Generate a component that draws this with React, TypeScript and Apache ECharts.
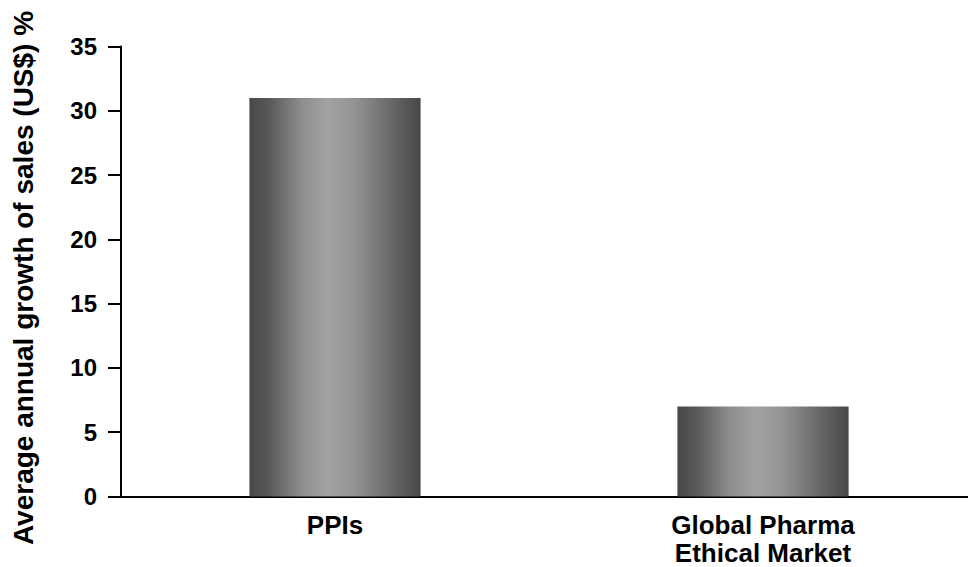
import React, { useEffect, useRef } from "react";
import * as echarts from "echarts";

const categories = ["PPIs", "Global Pharma\nEthical Market"];
const growthValues = [31, 7];
const yTicks = { min: 0, max: 35, interval: 5 };
const yTitle = "Average annual growth of sales (US$) %";

const FONT = "'Liberation Sans', Arial, Helvetica, sans-serif";

export default function App() {
  const ref = useRef<HTMLDivElement>(null);
  useEffect(() => {
    if (!ref.current) return;
    const chart = echarts.init(ref.current, undefined, { renderer: "svg" });
    const grad = new echarts.graphic.LinearGradient(0, 0, 1, 0, [
      { offset: 0, color: "#474747" },
      { offset: 0.12, color: "#5a5a5a" },
      { offset: 0.3, color: "#8c8c8c" },
      { offset: 0.45, color: "#a2a2a2" },
      { offset: 0.6, color: "#969696" },
      { offset: 0.82, color: "#6a6a6a" },
      { offset: 1, color: "#474747" },
    ]);
    chart.setOption({
      animation: false,
      backgroundColor: "#ffffff",
      grid: {
        left: 121,
        top: 46.5,
        width: 856,
        height: 450,
        containLabel: false,
        outerBoundsMode: "none",
      },
      graphic: [
        {
          type: "text",
          x: 23,
          y: 278,
          rotation: Math.PI / 2,
          style: {
            text: yTitle,
            fill: "#000",
            font: `bold 28px ${FONT}`,
            align: "center",
            verticalAlign: "middle",
          },
        },
      ],
      xAxis: {
        type: "category",
        data: categories,
        axisLine: { lineStyle: { color: "#000", width: 2 } },
        axisTick: { show: false },
        axisLabel: {
          color: "#000",
          fontFamily: FONT,
          fontWeight: "bold",
          fontSize: 26,
          lineHeight: 28,
          margin: 14,
        },
      },
      yAxis: {
        type: "value",
        min: yTicks.min,
        max: yTicks.max,
        interval: yTicks.interval,
        axisLine: { show: true, lineStyle: { color: "#000", width: 2 } },
        axisTick: { show: true, length: 13, lineStyle: { color: "#000", width: 2 } },
        splitLine: { show: false },
        axisLabel: {
          color: "#000",
          fontFamily: FONT,
          fontWeight: "bold",
          fontSize: 24,
          margin: 24,
        },
      },
      series: [
        {
          type: "bar",
          data: growthValues,
          barWidth: "40%",
          itemStyle: { color: grad },
        },
      ],
    });
    return () => chart.dispose();
  }, []);
  return (
    <div
      ref={ref}
      style={{ position: "absolute", left: 0, top: 0, width: 968, height: 567 }}
    />
  );
}
